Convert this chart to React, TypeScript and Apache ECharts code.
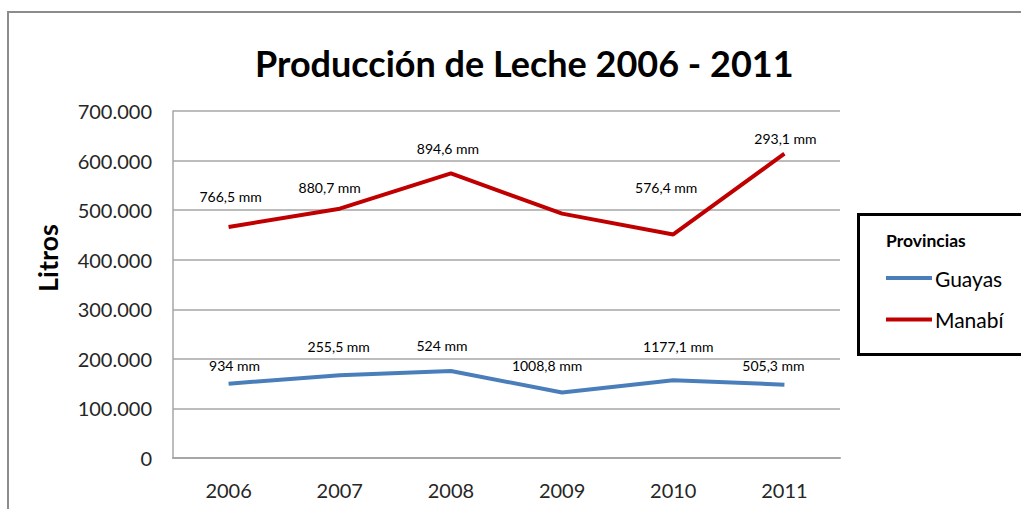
import React, { useEffect, useRef } from "react";
import * as echarts from "echarts";

const years = ["2006", "2007", "2008", "2009", "2010", "2011"];
const guayasValues = [150000, 167000, 175500, 132000, 157000, 148000];
const manabiValues = [466000, 503000, 574000, 493000, 451000, 614000];
const guayasLabels = ["934 mm", "255,5 mm", "524 mm", "1008,8 mm", "1177,1 mm", "505,3 mm"];
const manabiLabels = ["766,5 mm", "880,7 mm", "894,6 mm", "", "576,4 mm", "293,1 mm"];
const seriesNames = ["Guayas", "Manabí"];
const legendTitle = "Provincias";
const chartTitle = "Producción de Leche 2006 - 2011";
const axisName = "Litros";

// label placement offsets (layout only)
const guayasOffsets: [number, number][] = [[6, -11], [-1, -22], [-9, -18], [-15, -20], [5, -27], [-11, -12]];
const manabiOffsets: [number, number][] = [[2, -23], [-10, -14], [-3, -18], [0, 0], [-7, -40], [1, -8]];

const FONT = "Lato, 'Open Sans', sans-serif";

function fmt(v: number) {
  return String(v).replace(/\B(?=(\d{3})+(?!\d))/g, ".");
}

function buildData(values: number[], labels: string[], offsets: [number, number][]) {
  return values.map((v, i) => ({
    value: v,
    label: {
      show: labels[i] !== "",
      formatter: labels[i],
      offset: offsets[i],
    },
  }));
}

export default function App() {
  const ref = useRef<HTMLDivElement>(null);
  useEffect(() => {
    if (!ref.current) return;
    const chart = echarts.init(ref.current, undefined, { renderer: "svg" });
    const labelStyle = {
      show: true,
      position: "top" as const,
      distance: 0,
      fontFamily: FONT,
      fontSize: 14,
      color: "#000",
    };
    chart.setOption({
      animation: false,
      backgroundColor: "#fff",
      title: {
        text: chartTitle,
        left: 250,
        top: 40,
        textStyle: { fontFamily: FONT, fontSize: 36, fontWeight: "bold", color: "#000" },
      },
      graphic: [
        {
          type: "rect",
          shape: { x: 8, y: 12, width: 1100, height: 600 },
          style: { fill: "none", stroke: "#8c8c8c", lineWidth: 2 },
          silent: true,
        },
        {
          type: "rect",
          shape: { x: 858.5, y: 214.5, width: 200, height: 140 },
          style: { fill: "#fff", stroke: "#000", lineWidth: 3 },
          silent: true,
          z: 1,
        },
        {
          type: "text",
          left: 886,
          top: 231,
          z: 2,
          style: { text: legendTitle, fontFamily: FONT, fontSize: 17.5, fontWeight: "bold", fill: "#000" },
        },
        {
          type: "text",
          x: 47,
          y: 258,
          rotation: Math.PI / 2,
          style: {
            text: axisName,
            fontFamily: FONT,
            fontSize: 27,
            fontWeight: "bold",
            fill: "#000",
            align: "center",
            verticalAlign: "middle",
          },
        },
      ],
      legend: {
        data: seriesNames,
        orient: "vertical",
        left: 886,
        top: 267,
        padding: 0,
        itemWidth: 46,
        itemHeight: 4,
        itemGap: 19.6,
        icon: "rect",
        z: 3,
        textStyle: { fontFamily: FONT, fontSize: 21, color: "#000", lineHeight: 22, padding: [0, 0, 0, -2] },
      },
      grid: { left: 173, right: 181, top: 111, bottom: 51 },
      xAxis: {
        type: "category",
        data: years,
        boundaryGap: true,
        axisLine: { lineStyle: { color: "#a6a6a6", width: 2 } },
        axisTick: { show: false },
        axisLabel: { fontFamily: FONT, fontSize: 20, color: "#262626", margin: 22 },
      },
      yAxis: {
        type: "value",
        min: 0,
        max: 700000,
        interval: 100000,
        axisLine: { show: true, lineStyle: { color: "#a6a6a6", width: 1.5 } },
        axisTick: { show: false },
        splitLine: { lineStyle: { color: "#a6a6a6", width: 1.5 } },
        axisLabel: { fontFamily: FONT, fontSize: 20, color: "#262626", margin: 21, formatter: (v: number) => fmt(v) },
      },
      series: [
        {
          name: seriesNames[0],
          type: "line",
          data: buildData(guayasValues, guayasLabels, guayasOffsets),
          symbol: "circle",
          symbolSize: 0.1,
          showSymbol: true,
          lineStyle: { color: "#4a7ebb", width: 4 },
          itemStyle: { color: "#4a7ebb" },
          label: labelStyle,
        },
        {
          name: seriesNames[1],
          type: "line",
          data: buildData(manabiValues, manabiLabels, manabiOffsets),
          symbol: "circle",
          symbolSize: 0.1,
          showSymbol: true,
          lineStyle: { color: "#c00000", width: 4 },
          itemStyle: { color: "#c00000" },
          label: labelStyle,
        },
      ],
    });
    return () => chart.dispose();
  }, []);
  return <div ref={ref} style={{ position: "absolute", left: 0, top: 0, width: 1021, height: 509 }} />;
}
